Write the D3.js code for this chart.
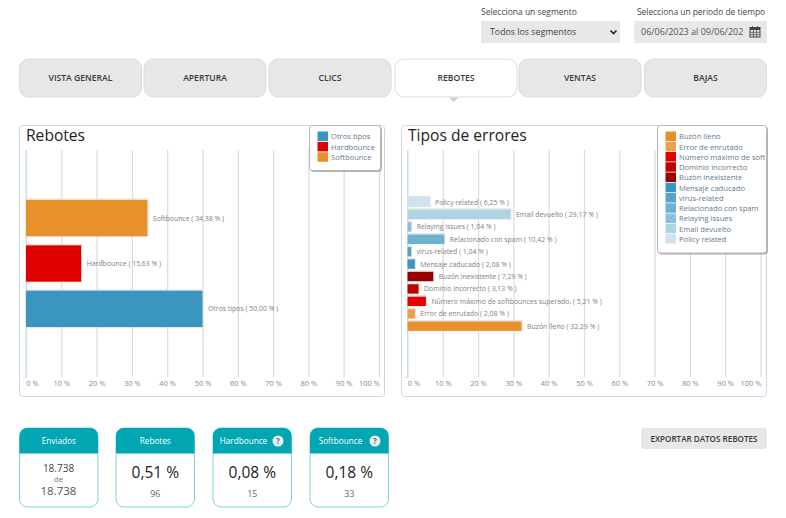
<!DOCTYPE html>
<html lang="es">
<head>
<meta charset="UTF-8">
<title>Rebotes</title>
<script src="https://d3js.org/d3.v7.min.js"></script>
<style>
  html, body { margin: 0; padding: 0; background: #fff; }
  svg { display: block; font-family: "Open Sans", sans-serif; }
  .grid line { stroke: #dcdcdc; stroke-width: 1.2px; }
  .grid path { display: none; }
  .grid text { fill: #8a8a8a; font-size: 7.5px; font-family: "Open Sans", sans-serif; }
  .lbl { fill: #808080; font-size: 6.9px; }
  .leg { fill: #64798c; font-size: 7.6px; }
  .tab { font-size: 8.6px; font-weight: 600; fill: #3a3a3a; text-anchor: middle; }
</style>
</head>
<body>
<div id="chart"></div>
<script>
// data
const reboteCats = ["Softbounce", "Hardbounce", "Otros tipos"];
const reboteVals = [34.38, 15.63, 50.00];
const reboteCols = ["#e8902a", "#e00000", "#3a95bf"];
const reboteLegend = ["Otros tipos", "Hardbounce", "Softbounce"];
const reboteLegendCols = ["#3a95bf", "#e00000", "#e8902a"];

const errorCats = ["Policy related", "Email devuelto", "Relaying issues", "Relacionado con spam", "virus-related",
  "Mensaje caducado", "Buzón inexistente", "Dominio incorrecto", "Número máximo de softbounces superado.",
  "Error de enrutado", "Buzón lleno"];
const errorVals = [6.25, 29.17, 1.04, 10.42, 1.04, 2.08, 7.29, 3.13, 5.21, 2.08, 32.29];
const errorCols = ["#cfe3ee", "#add3e5", "#8fc0da", "#6eb1d0", "#55a3c7", "#3a95bf", "#990000", "#c00000", "#e60000", "#eda04a", "#e8902a"];
const errorLegend = errorCats.slice().reverse();
const errorLegendCols = errorCols.slice().reverse();

const ticks = [0, 10, 20, 30, 40, 50, 60, 70, 80, 90, 100];

const tabNames = ["VISTA GENERAL", "APERTURA", "CLICS", "REBOTES", "VENTAS", "BAJAS"];
const tabStarts = [19.5, 144, 269, 395, 519, 644.5];
const activeTab = "REBOTES";

const cardTitles = ["Enviados", "Rebotes", "Hardbounce", "Softbounce"];
const cardMain = ["", "0,51 %", "0,08 %", "0,18 %"];
const cardSub = ["", "96", "15", "33"];
const cardStarts = [19.5, 116, 213, 310];
const cardHelp = [false, false, true, true];

const svg = d3.select("#chart").append("svg").attr("width", 786).attr("height", 518);

function fmt(v) { return v.toFixed(2).replace(".", ",") + " %"; }

// top filters
svg.append("text").attr("x", 481).attr("y", 15).attr("font-size", 8.5).attr("fill", "#444").text("Selecciona un segmento");
svg.append("text").attr("x", 637).attr("y", 15).attr("font-size", 8.4).attr("fill", "#444").text("Selecciona un periodo de tiempo");
svg.append("rect").attr("x", 481).attr("y", 21).attr("width", 139).attr("height", 22).attr("fill", "#e8e8e8");
svg.append("text").attr("x", 490).attr("y", 35).attr("font-size", 8.8).attr("fill", "#444").text("Todos los segmentos");
svg.append("path").attr("d", "M610.5 30.5l3 3l3 -3").attr("fill", "none").attr("stroke", "#222").attr("stroke-width", 1.6);
svg.append("rect").attr("x", 634).attr("y", 21).attr("width", 133).attr("height", 22).attr("fill", "#e8e8e8");
svg.append("clipPath").attr("id", "dateClip").append("rect").attr("x", 634).attr("y", 21).attr("width", 109).attr("height", 22);
svg.append("text").attr("x", 641).attr("y", 35).attr("font-size", 9).attr("fill", "#555").attr("clip-path", "url(#dateClip)").text("06/06/2023 al 09/06/2023");
// calendar icon
const cal = svg.append("g").attr("transform", "translate(750,27)");
cal.append("rect").attr("width", 10).attr("height", 9.5).attr("y", 0.5).attr("fill", "#e8e8e8").attr("stroke", "#444").attr("stroke-width", 1);
cal.append("rect").attr("width", 10).attr("height", 2.5).attr("y", 0.5).attr("fill", "#444");
cal.append("path").attr("d", "M2.5 -1v2M7.5 -1v2M3.4 3v7M6.6 3v7M0 5.3h10M0 7.6h10").attr("stroke", "#444").attr("stroke-width", 0.7);

// tabs
const tabs = svg.selectAll("g.tabg").data(tabNames).enter().append("g").attr("class", "tabg")
  .attr("transform", (d, i) => `translate(${tabStarts[i]},59)`);
tabs.append("rect").attr("width", 122).attr("height", 38).attr("rx", 9)
  .attr("fill", d => d == activeTab ? "#fff" : "#e7e7e7")
  .attr("stroke", "#dcdcdc").attr("stroke-width", 1);
tabs.append("text").attr("class", "tab").attr("x", 61).attr("y", 21.5).text(d => d);
svg.append("path").attr("d", "M449 97.5h9.5l-4.75 4.5z").attr("fill", "#cfcfcf");

function drawPanel(o) {
  const g = svg.append("g");
  g.append("rect").attr("x", o.x + 0.5).attr("y", 125.5).attr("width", 365).attr("height", 271).attr("rx", 3)
    .attr("fill", "#fff").attr("stroke", "#c8d9ea").attr("stroke-width", 1);
  g.append("text").attr("x", o.x + 7).attr("y", 141).attr("font-size", 15.6).attr("fill", "#222").text(o.title);

  const x = d3.scaleLinear().domain([0, 100]).range([o.x0, o.x0 + 353]);
  const y = d3.scaleBand().domain(o.cats).range(o.yRange).paddingInner(o.pad).paddingOuter(o.pad / 2);

  const axis = d3.axisBottom(x).tickValues(ticks).tickSize(-227).tickPadding(4).tickFormat(d => d + " %");
  const ax = g.append("g").attr("class", "grid").attr("transform", "translate(0,377)").call(axis);
  ax.selectAll(".tick text")
    .attr("dx", d => d == 0 ? 6 : (d == 100 ? -10 : 0));
  g.append("line").attr("x1", o.x0 - 3).attr("x2", o.x0).attr("y1", 377.5).attr("y2", 377.5).attr("stroke", "#c8d9ea");
  g.append("line").attr("x1", o.x0).attr("x2", o.x0).attr("y1", 150).attr("y2", 377).attr("stroke", "#c8d9ea").attr("stroke-width", 1);

  const bars = g.selectAll("g.bar").data(o.cats).enter().append("g").attr("class", "bar");
  // pale outline behind each bar
  bars.append("rect")
    .attr("x", x(0) - 0.5).attr("y", d => y(d) - 1.5)
    .attr("width", (d, i) => x(o.vals[i]) - x(0) + 1.5).attr("height", y.bandwidth() + 2)
    .attr("fill", "#e4e4e4");
  bars.append("rect")
    .attr("x", x(0)).attr("y", d => y(d))
    .attr("width", (d, i) => x(o.vals[i]) - x(0)).attr("height", y.bandwidth())
    .attr("fill", (d, i) => o.cols[i]);
  bars.append("text").attr("class", "lbl")
    .attr("x", (d, i) => x(o.vals[i]) + 5.5)
    .attr("y", d => y(d) + y.bandwidth() / 2 + 2.5)
    .text((d, i) => `${d} ( ${fmt(o.vals[i])} )`);

  // legend
  const lg = svg.append("g");
  const clipId = "clip" + o.x;
  svg.append("clipPath").attr("id", clipId).append("rect")
    .attr("x", o.lx).attr("y", 125).attr("width", o.lw - 1).attr("height", o.lh);
  lg.append("rect").attr("x", o.lx + 0.5).attr("y", 125.5).attr("width", o.lw).attr("height", o.lh).attr("rx", 3)
    .attr("fill", "#fff").attr("stroke", "#b9b9b9").attr("stroke-width", 1)
    .style("filter", "drop-shadow(1px 1px 0.6px rgba(0,0,0,0.3))");
  const rows = lg.selectAll("g.row").data(o.legend).enter().append("g").attr("class", "row")
    .attr("clip-path", `url(#${clipId})`);
  rows.append("rect").attr("x", o.lx + 8.5).attr("y", (d, i) => 131.5 + i * o.lstep)
    .attr("width", 10.5).attr("height", 9.5).attr("fill", (d, i) => o.legendCols[i]);
  rows.append("text").attr("class", "leg").attr("x", o.lx + 22).attr("y", (d, i) => 139.3 + i * o.lstep).text(d => d);
}

drawPanel({
  x: 19, x0: 26, title: "Rebotes", cats: reboteCats, vals: reboteVals, cols: reboteCols,
  yRange: [195.4, 331.6], pad: 0.2,
  legend: reboteLegend, legendCols: reboteLegendCols, lx: 309, lw: 71, lh: 45, lstep: 10.4
});
drawPanel({
  x: 401, x0: 407.5, title: "Tipos de errores", cats: errorCats, vals: errorVals, cols: errorCols,
  yRange: [195.8, 332.4], pad: 0.25,
  legend: errorLegend, legendCols: errorLegendCols, lx: 657, lw: 109, lh: 127.5, lstep: 10.25
});

// KPI cards
const cards = svg.selectAll("g.card").data(cardTitles).enter().append("g").attr("class", "card")
  .attr("transform", (d, i) => `translate(${cardStarts[i]},428)`);
cards.append("rect").attr("width", 78.5).attr("height", 79).attr("rx", 8)
  .attr("fill", "#fff").attr("stroke", "#7cd3d9").attr("stroke-width", 1);
cards.append("path").attr("d", "M0 25.5V8a8 8 0 0 1 8 -8H70.5a8 8 0 0 1 8 8V25.5z").attr("fill", "#00a6b2");
cards.append("text").attr("x", (d, i) => cardHelp[i] ? 30.5 : 39.25).attr("y", 16).attr("text-anchor", "middle")
  .attr("font-size", 8.2).attr("fill", "#fff").text(d => d);
cards.filter((d, i) => cardHelp[i]).append("circle").attr("cx", 65).attr("cy", 13).attr("r", 5.5).attr("fill", "#e9f3f4");
cards.filter((d, i) => cardHelp[i]).append("text").attr("x", 65).attr("y", 16).attr("text-anchor", "middle")
  .attr("font-size", 8).attr("font-weight", 700).attr("fill", "#5b6a6c").text("?");
cards.append("text").attr("x", 39.25).attr("y", 50).attr("text-anchor", "middle")
  .attr("font-size", 15.5).attr("fill", "#222").text((d, i) => cardMain[i]);
cards.append("text").attr("x", 39.25).attr("y", 69).attr("text-anchor", "middle")
  .attr("font-size", 8.8).attr("fill", "#666").text((d, i) => cardSub[i]);

const enviados = svg.append("g").attr("transform", "translate(58.5,0)").attr("text-anchor", "middle");
enviados.append("text").attr("y", 472).attr("font-size", 10).attr("font-weight", 500).attr("fill", "#444").text("18.738");
enviados.append("text").attr("y", 482).attr("font-size", 7.5).attr("fill", "#777").text("de");
enviados.append("text").attr("y", 495).attr("font-size", 11.5).attr("fill", "#555").text("18.738");

// export button
svg.append("rect").attr("x", 641).attr("y", 428).attr("width", 126).attr("height", 21).attr("rx", 3).attr("fill", "#e7e7e7");
svg.append("text").attr("x", 704).attr("y", 441.5).attr("text-anchor", "middle")
  .attr("font-size", 8.1).attr("font-weight", 600).attr("fill", "#3a3a3a").text("EXPORTAR DATOS REBOTES");
</script>
</body>
</html>
